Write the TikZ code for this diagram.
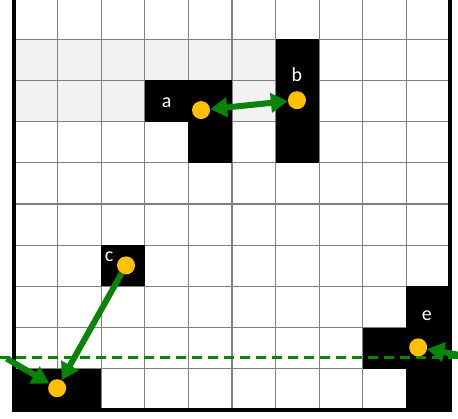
\documentclass[tikz,border=0pt]{standalone}
\usepackage{fontspec}
\setmainfont{Carlito}
\usetikzlibrary{arrows.meta}
\definecolor{dotorange}{RGB}{255,192,0}
\definecolor{pathgreen}{RGB}{8,132,8}
\definecolor{seengray}{RGB}{242,242,242}
\tikzset{
  dot/.style={circle, fill=dotorange, inner sep=0pt, minimum size=18pt},
  lbl/.style={text=white, font=\fontsize{20}{20}\selectfont, inner sep=0pt},
  move/.style={pathgreen, line width=6pt},
}
\begin{document}
\begin{tikzpicture}[x=43.6pt, y=-41.2pt, >={Triangle[length=17pt,width=19pt]}]
    \useasboundingbox (-0.321,0.0485) rectangle (10.183,10.194);
    % visited cells
    \foreach \c in {0,...,5} \fill[seengray] (\c,1) rectangle ++(1,1);
    \foreach \c in {0,1,2,5} \fill[seengray] (\c,2) rectangle ++(1,1);
    % grid
    \foreach \i in {1,...,9} {
      \draw[gray, line width=1.1pt] (\i,0) -- (\i,10);
      \draw[gray, line width=1.1pt] (0,\i) -- (10,\i);
    }
    % blocked cells
    \foreach \c/\r in {6/1, 3/2, 4/2, 6/2, 4/3, 6/3, 2/6, 0/9, 1/9, 9/7, 8/8, 9/8, 9/9}
      \fill[black] (\c,\r) rectangle ++(1,1);
    \draw[black, line width=3.5pt] (0,0) rectangle (10,10);
    % scan line
    \coordinate (sl) at (-0.33,8.72);
    \coordinate (sr) at (10.2,8.72);
    \draw[pathgreen, line width=3pt, dash pattern=on 10pt off 6pt] (sl) -- (sr);
    % points
    \node[dot] (a) at (4.29,2.72) {};
    \node[dot] (b) at (6.49,2.48) {};
    \node[dot] (c) at (2.57,6.49) {};
    \node[dot] (d) at (0.99,9.47) {};
    \node[dot] (e) at (9.27,8.48) {};
    \node[lbl] (la) at (3.50,2.55) {a};
    \node[lbl] (lb) at (6.49,1.87) {b};
    \node[lbl] (lc) at (2.18,6.27) {c};
    \node[lbl] (le) at (9.47,7.70) {e};
    % moves
    \coordinate (lt) at (-0.17,8.75);
    \coordinate (rt) at (10.2,8.66);
    \draw[move, <->] (a) -- (b);
    \draw[move, ->] (c) -- (d);
    \draw[move, ->] (lt) -- (d);
    \draw[move, ->] (rt) -- (e);
\end{tikzpicture}
\end{document}
